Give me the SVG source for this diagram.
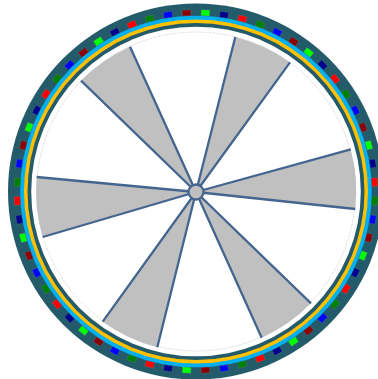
<svg xmlns="http://www.w3.org/2000/svg" xmlns:xlink="http://www.w3.org/1999/xlink" width="378" height="379" viewBox="0 0 378 379">
<style>
.m{stroke:#7f97a0;stroke-opacity:.5;stroke-width:.4}
.rad{fill:none;stroke:#44658f;stroke-width:2.300}
.sec{fill:#c0c0c0;stroke:none}
</style>
<defs>
<g id="cycle">
<rect class="m" x="-4.200" y="-181.800" width="8.400" height="5.800" fill="#00ff00" transform="rotate(3)"/>
<rect class="m" x="-4.200" y="-181.800" width="8.400" height="5.800" fill="#00008b" transform="rotate(9)"/>
<rect class="m" x="-4.200" y="-181.800" width="8.400" height="5.800" fill="#ff0000" transform="rotate(15)"/>
<rect class="m" x="-4.200" y="-181.800" width="8.400" height="5.800" fill="#008000" transform="rotate(21)"/>
<rect class="m" x="-4.200" y="-181.800" width="8.400" height="5.800" fill="#0000ff" transform="rotate(27)"/>
<rect class="m" x="-4.200" y="-181.800" width="8.400" height="5.800" fill="#8b0000" transform="rotate(33)"/>
</g>
</defs>
<rect width="378" height="379" fill="#ffffff"/>
<g id="rings">
<circle cx="196" cy="191.5" r="188" fill="#235b6b"/>
<circle cx="196" cy="191.5" r="175.800" fill="#00b0f0"/>
<circle cx="196" cy="191.5" r="172" fill="#ffc000"/>
<circle cx="196" cy="191.5" r="168.500" fill="#235b6b"/>
<circle cx="196" cy="191.5" r="164.800" fill="#ffffff"/>
<circle cx="196" cy="191.5" r="159.500" fill="none" stroke="#d4d4d4" stroke-width=".7" stroke-dasharray="3 1"/>
</g>
<g id="markers" transform="translate(196 191.5)">
<use xlink:href="#cycle" href="#cycle"/>
<use xlink:href="#cycle" href="#cycle" transform="rotate(36)"/>
<use xlink:href="#cycle" href="#cycle" transform="rotate(72)"/>
<use xlink:href="#cycle" href="#cycle" transform="rotate(108)"/>
<use xlink:href="#cycle" href="#cycle" transform="rotate(144)"/>
<use xlink:href="#cycle" href="#cycle" transform="rotate(180)"/>
<use xlink:href="#cycle" href="#cycle" transform="rotate(216)"/>
<use xlink:href="#cycle" href="#cycle" transform="rotate(252)"/>
<use xlink:href="#cycle" href="#cycle" transform="rotate(288)"/>
<use xlink:href="#cycle" href="#cycle" transform="rotate(324)"/>
</g>
<g id="sectors">
<path class="sec" d="M196 192L81 80.7A160.500 160.500 0 0 1 130 46.700Z"/>
<path class="sec" d="M196 192L235.300 37A160.500 160.500 0 0 1 290 62.300Z"/>
<path class="sec" d="M196 192L350.700 149.300A160.500 160.500 0 0 1 355.300 209Z"/>
<path class="sec" d="M196 192L311 303.300A160.500 160.500 0 0 1 261.700 337.700Z"/>
<path class="sec" d="M196 192L157.300 347.300A160.500 160.500 0 0 1 102.700 321.700Z"/>
<path class="sec" d="M196 192L42.700 237A160.500 160.500 0 0 1 36.700 177Z"/>
</g>
<g id="connectors">
<path class="rad" d="M81 80.700L196 192L130 46.700"/>
<path class="rad" d="M235.300 37L196 192L290 62.300"/>
<path class="rad" d="M350.700 149.300L196 192L355.300 209"/>
<path class="rad" d="M311 303.300L196 192L261.700 337.700"/>
<path class="rad" d="M157.300 347.300L196 192L102.700 321.700"/>
<path class="rad" d="M42.700 237L196 192L36.700 177"/>
</g>
<g id="hub">
<circle cx="196" cy="192" r="7.500" fill="#c0c0c0" stroke="#44658f" stroke-width="2.300"/>
</g>
</svg>
